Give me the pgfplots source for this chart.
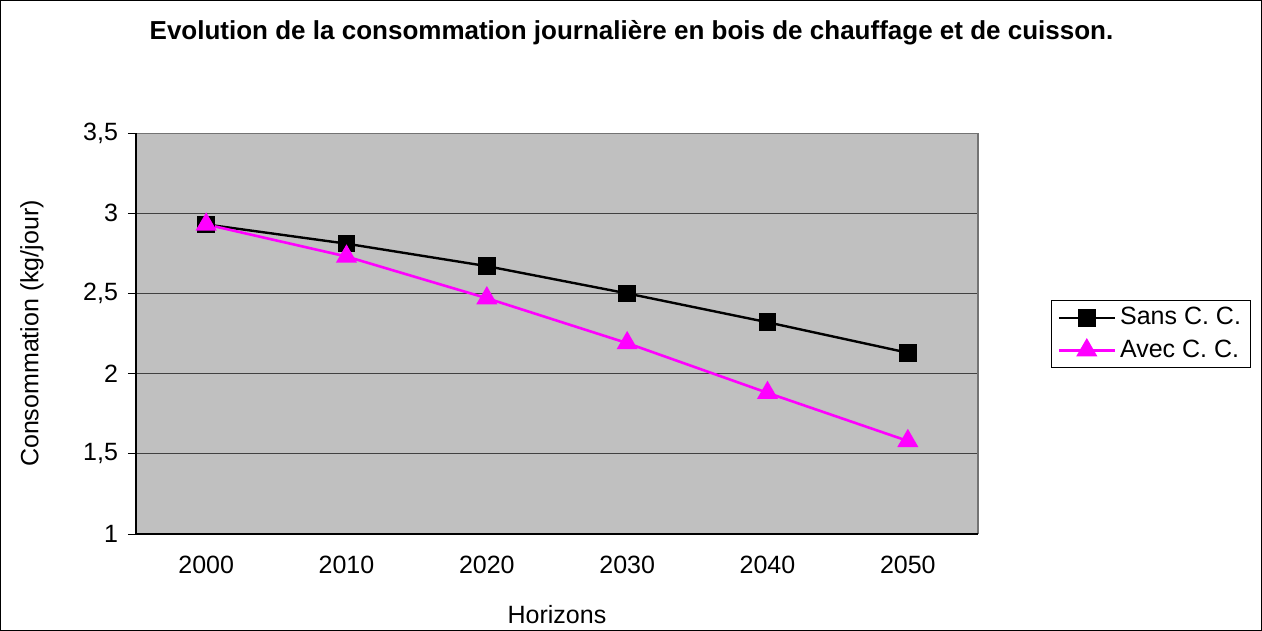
\documentclass[border=0pt]{standalone}
\usepackage{pgfplots}
\pgfplotsset{compat=1.18}
\usepackage{fontspec}
\setmainfont{Liberation Sans}
\definecolor{plotgray}{RGB}{192,192,192}
\definecolor{magentaline}{RGB}{255,0,255}
\begin{document}
\begin{tikzpicture}
\begin{axis}[
  scale only axis, width=421pt, height=200.5pt,
  xmin=-0.5, xmax=5.5, ymin=1, ymax=3.5,
  axis background/.style={fill=plotgray},
  axis line style={draw=none},
  xtick={0,1,2,3,4,5},
  xticklabels={2000,2010,2020,2030,2040,2050},
  x tick style={draw=none},
  xticklabel style={yshift=-3.5pt},
  extra x ticks={-0.5,0.5,1.5,2.5,3.5,4.5,5.5},
  extra x tick labels={},
  extra x tick style={tick style={draw=black, line width=0.5pt}, major tick length=4pt, tick align=outside, grid=none},
  ytick={1,1.5,2,2.5,3,3.5},
  yticklabel style={xshift=-1.5pt, /pgf/number format/.cd, use comma, fixed, precision=1},
  y tick style={draw=black, line width=0.5pt},
  major tick length=4pt, tick align=outside,
  ymajorgrids, major grid style={black!75, line width=0.5pt},
  tick label style={font=\fontsize{12.5}{14}\selectfont},
  /pgf/number format/assume math mode=true,
  xtick pos=bottom, ytick pos=left,
  xlabel={Horizons}, ylabel={Consommation (kg/jour)},
  label style={font=\fontsize{12.5}{14}\selectfont},
  xlabel style={at={(axis description cs:0.5,-0.202)}, anchor=center},
  ylabel style={at={(axis description cs:-0.1235,0.5)}, anchor=center},
  legend style={at={(axis description cs:1.0867,0.5835)}, anchor=north west, draw=black, line width=0.5pt,
     font=\fontsize{12.5}{14}\selectfont, row sep=2pt, inner xsep=3pt, inner ysep=1.5pt, cells={anchor=west},
     legend image code/.code={\draw[mark repeat=2,mark phase=2,#1] plot coordinates {(0pt,0pt) (14pt,0pt) (28pt,0pt)};}},
  legend cell align=left,
  clip=false,
]
\addplot[black, line width=1.2pt, mark=square*, mark size=3.8pt, mark options={solid}] coordinates {
(0,2.93) (1,2.81) (2,2.67) (3,2.50) (4,2.32) (5,2.13)};
\addlegendentry{Sans C. C.}
\addplot[magentaline, line width=1.3pt, mark=triangle*, mark size=4.8pt] coordinates {
(0,2.93) (1,2.73) (2,2.47) (3,2.19) (4,1.88) (5,1.58)};
\addlegendentry{Avec C. C.}
\draw[black!55, line width=1.2pt] (rel axis cs:1,0) -- (rel axis cs:1,1);
\draw[black!55, line width=0.5pt] (rel axis cs:0,1) -- (rel axis cs:1,1);
\draw[black, line width=0.6pt] (rel axis cs:0,0) -- (rel axis cs:0,1);
\draw[black, line width=0.6pt] (rel axis cs:0,0) -- (rel axis cs:1,0);
\draw[black, line width=0.6pt] ([xshift=0.3pt,yshift=0.3pt]rel axis cs:-0.16152,-0.24190) rectangle ([xshift=-0.3pt,yshift=-0.3pt]rel axis cs:1.33729,1.33167);
\node[font=\bfseries\fontsize{13}{15}\selectfont, anchor=center] at (rel axis cs:0.58848,1.2494) {Evolution de la consommation journalière en bois de chauffage et de cuisson.};
\end{axis}
\end{tikzpicture}
\end{document}
